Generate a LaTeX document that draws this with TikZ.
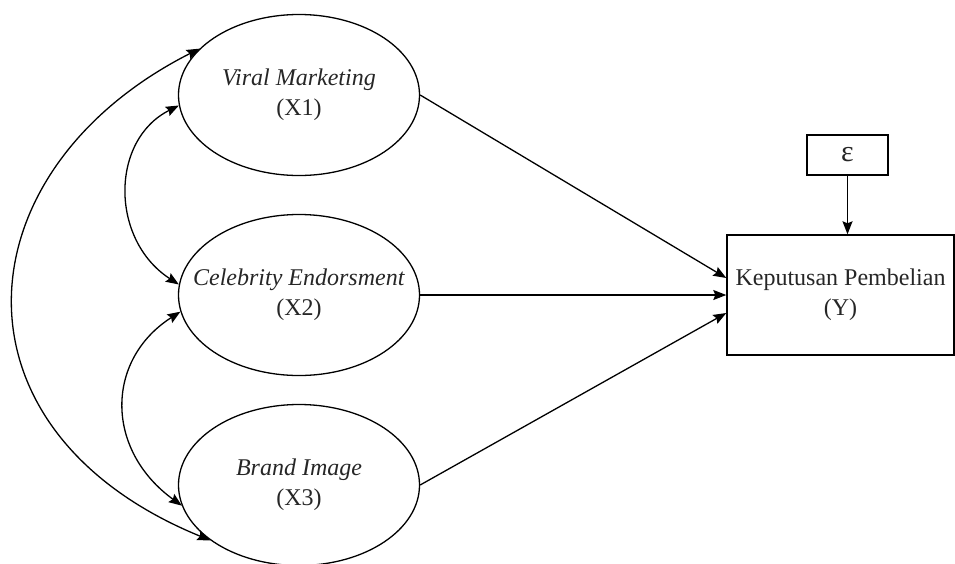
\documentclass[tikz,border=0pt]{standalone}
\usepackage{fontspec}
\setmainfont{Liberation Serif}
\usetikzlibrary{shapes.geometric,arrows.meta}
\begin{document}
\begin{tikzpicture}[x=1pt,y=-1pt,
  every node/.style={font=\fontsize{24}{30}\selectfont, text=black!85, align=center},
  latent/.style={ellipse, draw=black, line width=1.3pt, minimum width=241pt, minimum height=161pt, inner sep=0pt},
  lbl/.style={inner sep=0pt},
  obs/.style={rectangle, draw=black, line width=1.4pt, inner sep=0pt},
  arr/.style={line width=1.3pt, -{Stealth[length=13pt,width=10pt,inset=2pt]}},
  barr/.style={line width=1.3pt, {Stealth[length=13pt,width=10pt,inset=2pt]}-{Stealth[length=13pt,width=10pt,inset=2pt]}}]
\useasboundingbox (0,0) rectangle (955,563);
\node[latent] (X1) at (299,95) {};
\node[latent] (X2) at (299,295) {};
\node[latent] (X3) at (299,485) {};
\node[lbl] (T1) at (X1) {\textit{Viral Marketing}\\(X1)};
\node[lbl] (T2) at (X2) {\textit{Celebrity Endorsment}\\(X2)};
\node[lbl] (T3) at (X3) {\textit{Brand Image}\\(X3)};
\node[obs, minimum width=227pt, minimum height=120pt] (Y) at (840.5,295) {Keputusan Pembelian\\(Y)};
\node[obs, minimum width=81pt, minimum height=40pt, font=\fontsize{30}{30}\selectfont] (E) at (847.5,155) {ε};
\draw[arr] (X1.east) -- ([yshift=17pt]Y.west);
\draw[arr] (X2.east) -- (Y.west);
\draw[arr] (X3.east) -- ([yshift=-18pt]Y.west);
\draw[arr] (E.south) -- (E.south |- Y.north);
\draw[barr] (X1.155) .. controls (-40,170) and (-60,430) .. (X3.212);
\draw[barr] (X1.185) .. controls (110,140) and (110,240) .. (X2.175);
\draw[barr] (X2.188) .. controls (105,360) and (105,450) .. (X3.190);
\end{tikzpicture}
\end{document}
